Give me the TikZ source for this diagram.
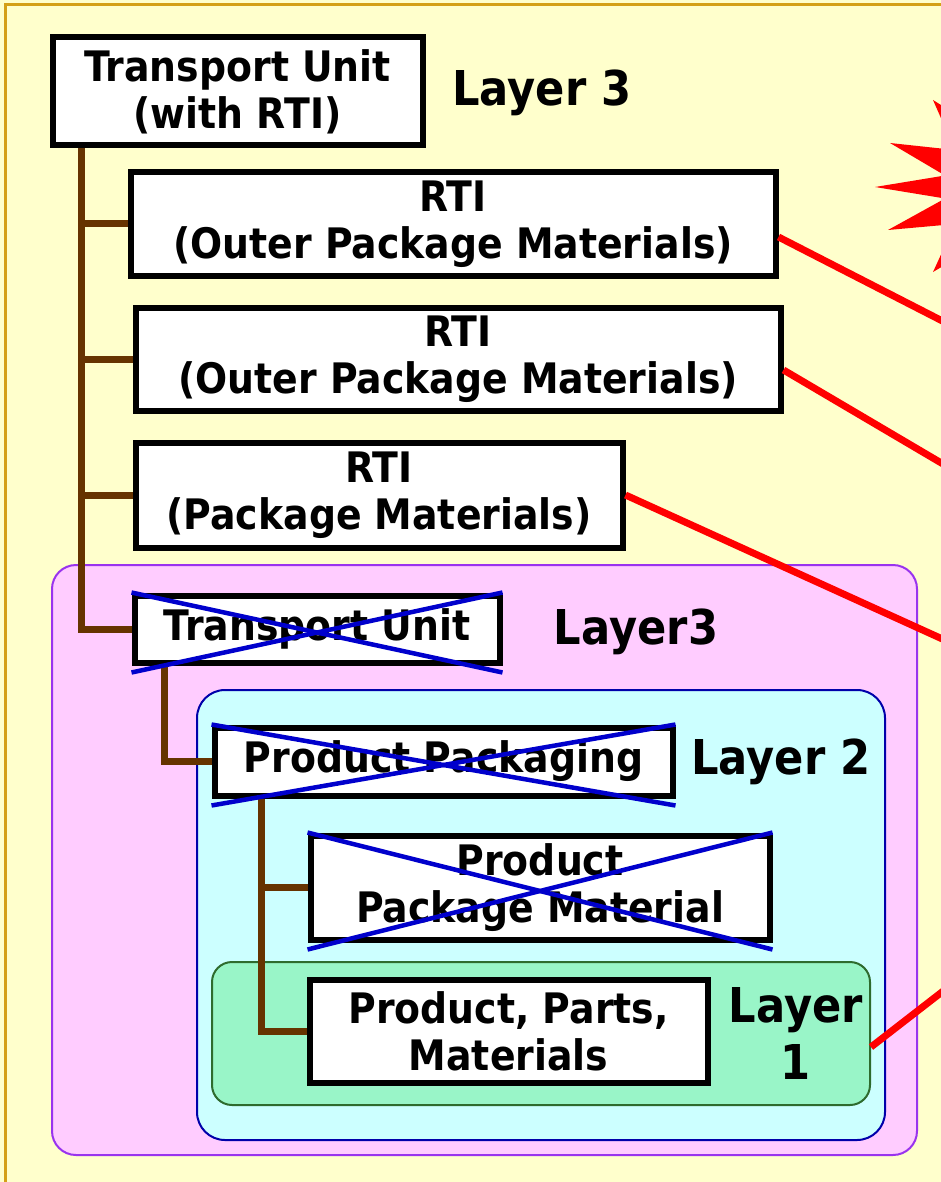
\documentclass[tikz,border=0pt]{standalone}
\usepackage{fontspec}
\setmainfont{DejaVu Sans}
\newfontfamily\lblfont{DejaVu Sans}[FakeStretch=0.9, UprightFont=*-Bold, BoldFont=*-Bold, BoldFeatures={FakeStretch=0.9}]
\definecolor{bgyellow}{HTML}{FFFFCC}
\definecolor{goldline}{HTML}{D4A017}
\definecolor{pinkfill}{HTML}{FFCCFF}
\definecolor{pinkline}{HTML}{9933EE}
\definecolor{cyanfill}{HTML}{CCFFFF}
\definecolor{cyanline}{HTML}{0000AA}
\definecolor{greenfill}{HTML}{99F5C8}
\definecolor{greenline}{HTML}{2E6B2E}
\definecolor{xblue}{HTML}{0000CC}
\definecolor{brownline}{HTML}{663300}
\begin{document}
\begin{tikzpicture}[x=1pt,y=-1pt,
  box/.style={draw=black, line width=6pt, fill=white, inner sep=0pt, align=center,
    font=\lblfont\fontsize{42}{47}\selectfont},
  layerlabel/.style={inner sep=0pt, align=center, font=\lblfont\fontsize{48}{57}\selectfont},
  region/.style={inner sep=0pt, line width=2pt, rounded corners=24pt},
  conn/.style={draw=brownline, line width=7pt},
  xline/.style={draw=xblue, line width=4.5pt},
  redline/.style={draw=red, line width=7pt}]
\useasboundingbox (0,0) rectangle (941,1182);
\begin{scope}
\clip (0,0) rectangle (941,1182);
\fill[bgyellow] (0,0) rectangle (941,1182);
\draw[goldline, line width=3pt] (5,5) rectangle (1000,1300);

% red burst
\fill[red] (1010,187) -- (979,129) -- (933,100) -- (955,150) -- (890,143) -- (945,175.5)
  -- (875,187) -- (945,198.5) -- (888,230) -- (955,224) -- (933,272) -- (979,245) -- cycle;

% nested layer regions
\node[region, draw=pinkline, fill=pinkfill, minimum width=865pt, minimum height=590pt] (L3box) at (484.5,860) {};
\node[region, draw=cyanline, fill=cyanfill, minimum width=688pt, minimum height=450pt, rounded corners=28pt] (L2box) at (541,915) {};
\node[region, draw=greenline, fill=greenfill, minimum width=658pt, minimum height=143pt, rounded corners=20pt] (L1box) at (541,1033.5) {};

% boxes
\node[box, minimum width=370pt, minimum height=108pt] (TU) at (237.5,91.5) {Transport Unit\\(with RTI)};
\node[box, minimum width=645pt, minimum height=103pt] (RTI1) at (453,224) {RTI\\(Outer Package Materials)};
\node[box, minimum width=645pt, minimum height=103pt] (RTI2) at (458,359) {RTI\\(Outer Package Materials)};
\node[box, minimum width=487pt, minimum height=105pt] (RTI3) at (379,495) {RTI\\(Package Materials)};
\node[box, minimum width=365pt, minimum height=67pt] (TUx) at (317,629) {Transport Unit};
\node[box, minimum width=458pt, minimum height=68pt] (PP) at (443.5,761.5) {Product Packaging};
\node[box, minimum width=459pt, minimum height=104pt] (PPM) at (540,887.5) {Product\\Package Material};
\node[box, minimum width=398pt, minimum height=103pt] (PR) at (508.5,1031) {Product, Parts,\\Materials};

% labels
\node[layerlabel] (lab3) at (542,93) {Layer 3};
\node[layerlabel] (lab3b) at (636,632) {Layer3};
\node[layerlabel] (lab2) at (781,762) {Layer 2};
\node[layerlabel] (lab1) at (796,1033) {Layer\\1};

% brown tree connectors
\draw[conn] ([xshift=32pt]TU.south west) |- (TUx.west);
\draw[conn] ([xshift=32pt]TU.south west) |- (RTI1.west);
\draw[conn] ([xshift=32pt]TU.south west) |- (RTI2.west);
\draw[conn] ([xshift=32pt]TU.south west) |- (RTI3.west);
\draw[conn] ([xshift=33pt]TUx.south west) |- (PP.west);
\draw[conn] ([xshift=50pt]PP.south west) |- (PPM.west);
\draw[conn] ([xshift=50pt]PP.south west) |- (PR.west);

% crossing-out lines
\foreach \b in {TUx,PP,PPM} {
  \draw[xline] (\b.north west) -- ([yshift=-7pt]\b.south east);
  \draw[xline] ([yshift=-7pt]\b.south west) -- (\b.north east);
}

% red lines
\coordinate (r1) at (960,330);
\coordinate (r2) at (960,474);
\coordinate (r3) at (960,647);
\coordinate (r4) at (960,978);
\draw[redline] ([yshift=-13pt]RTI1.east) -- (r1);
\draw[redline] ([yshift=-11pt]RTI2.east) -- (r2);
\draw[redline] (RTI3.east) -- (r3);
\draw[redline] ([yshift=-13.5pt]L1box.east) -- (r4);
\end{scope}
\end{tikzpicture}
\end{document}
